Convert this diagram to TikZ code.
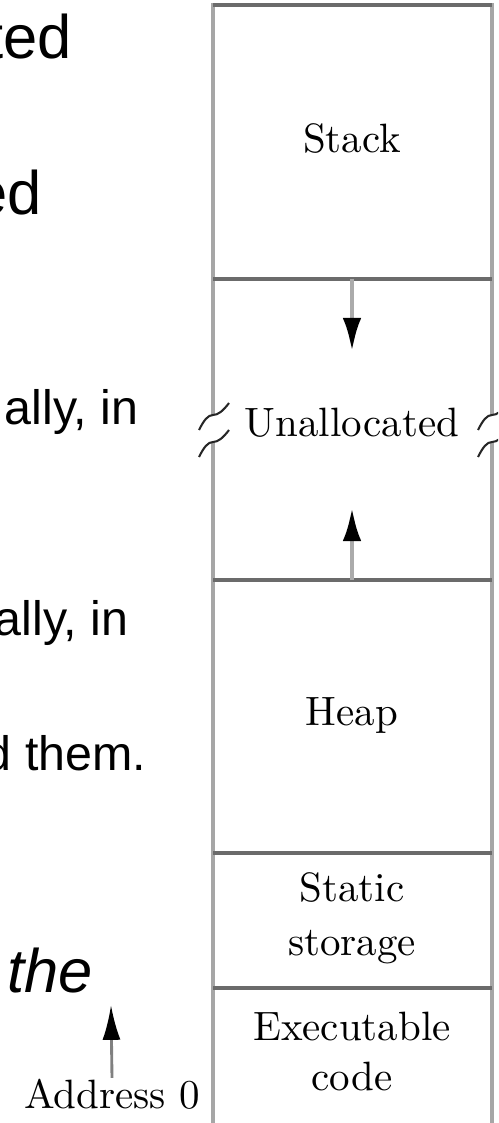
\documentclass[tikz,border=0pt]{standalone}
\usepackage{fontspec}
\newfontfamily\slidefont{Liberation Sans}
\usetikzlibrary{arrows.meta}

\begin{document}
\begin{tikzpicture}[x=0.244pt,y=-0.244pt,
  side/.style={draw=black!35,line width=1pt},
  rule/.style={draw=black!58,line width=0.8pt},
  brk/.style={draw=black!85,line width=0.5pt},
  growarrow/.style={draw=black!33,line width=1.2pt,-{Latex[length=8.3pt,width=4.5pt,color=black]}},
  lbl/.style={inner sep=0,anchor=base},
  bigtext/.style={inner sep=0,anchor=base east,font=\slidefont\fontsize{15}{18}\selectfont},
  smalltext/.style={inner sep=0,anchor=base east,font=\slidefont\fontsize{11.8}{14}\selectfont}]
\clip (0,0) rectangle (498,1123);
% memory column
\foreach \x in {213,492} {
 \draw[side] (\x,3) -- (\x,415);
 \draw[side] (\x,442) -- (\x,1126);
 \foreach \y in {415,442} {
  \draw[brk] (\x-14,\y+15) .. controls (\x-9,\y+5) and (\x-5,\y) .. (\x,\y) .. controls (\x+5,\y) and (\x+10,\y-4) .. (\x+16,\y-12);
 };
};
\foreach \y in {5,279,580,853,988} {
 \draw[rule] (213,\y) -- (492,\y);
};
\node[lbl] (stack) at (352,153) {Stack};
\node[lbl] (unalloc) at (352,437) {Unallocated};
\node[lbl] (heap) at (352,725) {Heap};
\node[lbl,align=center] (static) at (352,955) {Static\\[1pt]storage};
\node[lbl,align=center] (exec) at (352,1090) {Executable\\code};
% growth arrows
\coordinate (stackfloor) at (352,279);
\coordinate (heaproof) at (352,580);
\coordinate (downtip) at (352,352);
\coordinate (uptip) at (352,507);
\draw[growarrow] (stackfloor) -- (downtip);
\draw[growarrow] (heaproof) -- (uptip);
% address 0
\node[lbl] (addr) at (112,1108) {Address 0};
\coordinate (addrtip) at (111,1005);
\draw[draw=black!50,line width=0.7pt,-{Latex[length=8.5pt,width=4.4pt,color=black]}] (addr.north) -- (addrtip);
% slide text behind
\node[bigtext] (w1) at (73,59) {ted};
\node[bigtext] (w2) at (43,215) {ed};
\node[smalltext] (w3) at (139,425) {ally, in};
\node[smalltext] (w4) at (129,635) {ally, in};
\node[smalltext] (w5) at (147,770) {d them.};
\node[bigtext,font=\slidefont\itshape\fontsize{15}{18}\selectfont] (w6) at (94,992) {the};
\end{tikzpicture}
\end{document}
